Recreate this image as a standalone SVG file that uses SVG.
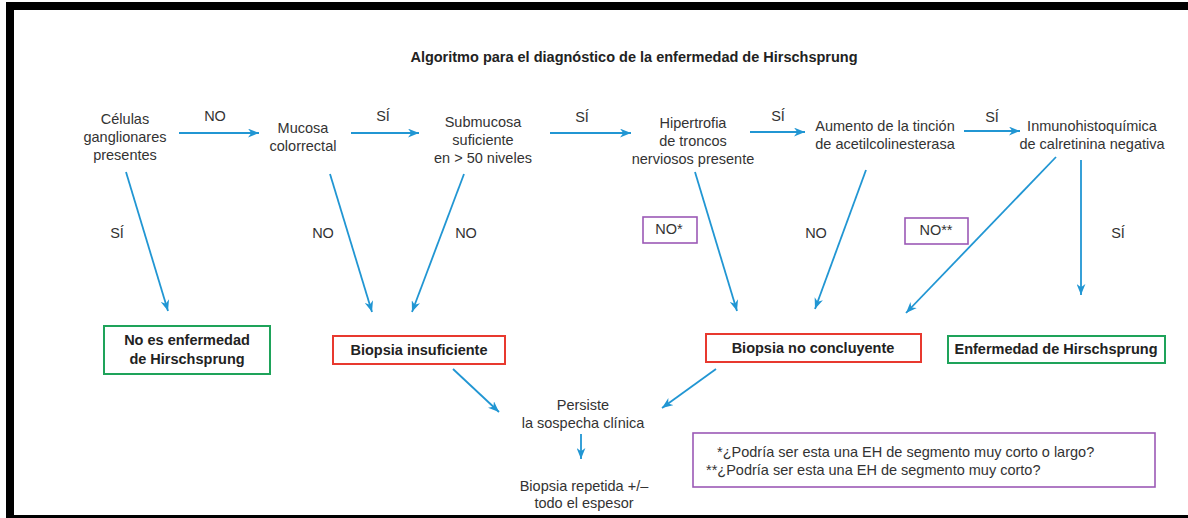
<svg xmlns="http://www.w3.org/2000/svg" width="1188" height="518" viewBox="0 0 1188 518">
<defs>
<marker id="ah" viewBox="0 0 10 8" refX="10" refY="4" markerWidth="11" markerHeight="9" markerUnits="userSpaceOnUse" orient="auto">
<path d="M0,0 L10,4 L0,8 L3,4 z" fill="#2196d3"/>
</marker>
<style>
text{font-family:"Liberation Sans",Arial,sans-serif;font-size:14.5px;fill:#333;text-anchor:middle}
.b{font-weight:bold;fill:#222}
.t{font-weight:bold;fill:#222;font-size:14.5px}
.l{text-anchor:start}
.red{fill:none;stroke:#e8392f;stroke-width:2}
.grn{fill:none;stroke:#1ea35a;stroke-width:2}
.pur{fill:none;stroke:#9b59b6;stroke-width:1.6}
#edges line{stroke:#2196d3;stroke-width:1.8;marker-end:url(#ah)}
</style>
</defs>
<rect x="0" y="0" width="1188" height="518" fill="#fff"/>
<rect x="6" y="2" width="1182" height="8" fill="#000"/>
<rect x="6" y="2" width="8" height="516" fill="#000"/>
<rect x="6" y="515" width="1182" height="3" fill="#000"/>
<text class="t" x="634" y="62">Algoritmo para el diagnóstico de la enfermedad de Hirschsprung</text>

<g id="edges">
<line x1="179" y1="133" x2="259" y2="133"/>
<line x1="351" y1="133" x2="419" y2="133"/>
<line x1="550" y1="133" x2="631" y2="133"/>
<line x1="750" y1="132" x2="805" y2="132"/>
<line x1="964" y1="131" x2="1020" y2="131"/>
<line x1="126" y1="172" x2="168" y2="311"/>
<line x1="330" y1="174" x2="372" y2="312"/>
<line x1="464" y1="174" x2="412" y2="312"/>
<line x1="695" y1="172" x2="737" y2="311"/>
<line x1="866" y1="170" x2="815" y2="309"/>
<line x1="1056" y1="157" x2="906" y2="313"/>
<line x1="1081" y1="160" x2="1081" y2="295"/>
<line x1="453" y1="369" x2="499" y2="412"/>
<line x1="716" y1="369" x2="662" y2="408"/>
<line x1="581" y1="434" x2="581" y2="459"/>
</g>

<g id="edge-labels">
<text x="215" y="121">NO</text>
<text x="383" y="121">SÍ</text>
<text x="582" y="122">SÍ</text>
<text x="778" y="121">SÍ</text>
<text x="992" y="122">SÍ</text>
<text x="117" y="238">SÍ</text>
<text x="323" y="238">NO</text>
<text x="466" y="238">NO</text>
<g id="lbl-nostar"><rect class="pur" x="643" y="217" width="54" height="26"/><text x="669" y="234">NO*</text></g>
<text x="816" y="238">NO</text>
<g id="lbl-nostar2"><rect class="pur" x="905" y="218" width="63" height="26"/><text x="936" y="235">NO**</text></g>
<text x="1118" y="238">SÍ</text>
</g>

<g id="n-celulas"><text x="125" y="124">Células</text><text x="125" y="142">ganglionares</text><text x="125" y="160">presentes</text></g>
<g id="n-mucosa"><text x="303" y="133">Mucosa</text><text x="303" y="151">colorrectal</text></g>
<g id="n-submucosa"><text x="483" y="127">Submucosa</text><text x="483" y="145">suficiente</text><text x="483" y="163">en &gt; 50 niveles</text></g>
<g id="n-hipertrofia"><text x="693" y="128">Hipertrofia</text><text x="693" y="146">de troncos</text><text x="693" y="164">nerviosos presente</text></g>
<g id="n-aumento"><text x="885" y="131">Aumento de la tinción</text><text x="885" y="149">de acetilcolinesterasa</text></g>
<g id="n-inmuno"><text x="1092" y="131">Inmunohistoquímica</text><text x="1092" y="149">de calretinina negativa</text></g>

<g id="n-noes"><rect class="grn" x="104" y="326" width="166" height="48"/><text class="b" x="187" y="345">No es enfermedad</text><text class="b" x="187" y="364">de Hirschsprung</text></g>
<g id="n-insuf"><rect class="red" x="333" y="336" width="172" height="28"/><text class="b" x="419" y="355">Biopsia insuficiente</text></g>
<g id="n-noconc"><rect class="red" x="706" y="334" width="215" height="28"/><text class="b" x="813" y="353">Biopsia no concluyente</text></g>
<g id="n-eh"><rect class="grn" x="948" y="336" width="217" height="27"/><text class="b" x="1056" y="354">Enfermedad de Hirschsprung</text></g>

<g id="n-persiste"><text x="583" y="410">Persiste</text><text x="583" y="428">la sospecha clínica</text></g>
<g id="n-repetida"><text x="584" y="491">Biopsia repetida +/–</text><text x="584" y="508">todo el espesor</text></g>

<g id="n-notas"><rect class="pur" x="693" y="433" width="462" height="54" stroke-width="2"/>
<text class="l" x="717" y="457">*¿Podría ser esta una EH de segmento muy corto o largo?</text>
<text class="l" x="706" y="475">**¿Podría ser esta una EH de segmento muy corto?</text></g>
</svg>
